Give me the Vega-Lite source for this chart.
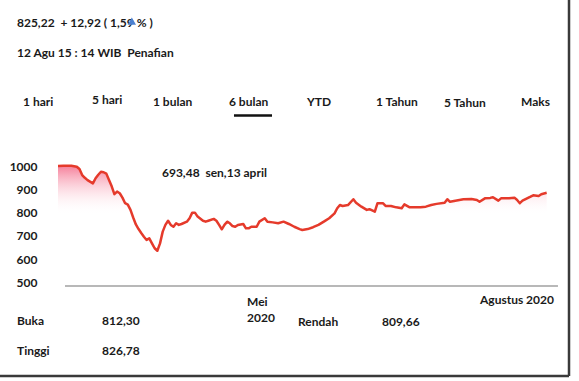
{
  "$schema": "https://vega.github.io/schema/vega-lite/v6.json",
  "width": 579,
  "height": 381,
  "autosize": "none",
  "padding": 0,
  "background": "#ffffff",
  "config": {"view": {"stroke": null}},
  "datasets": {
    "ihsg": [
      {"date":"2020-02-12","value":1003},{"date":"2020-02-14","value":1004},{"date":"2020-02-17","value":1004},
      {"date":"2020-02-19","value":1000},{"date":"2020-02-20","value":990},{"date":"2020-02-21","value":964},
      {"date":"2020-02-22","value":952},{"date":"2020-02-23","value":942},{"date":"2020-02-25","value":928},
      {"date":"2020-02-26","value":950},{"date":"2020-02-27","value":965},{"date":"2020-02-28","value":978},
      {"date":"2020-02-29","value":976},{"date":"2020-03-01","value":970},{"date":"2020-03-02","value":942},
      {"date":"2020-03-03","value":915},{"date":"2020-03-04","value":881},{"date":"2020-03-05","value":892},
      {"date":"2020-03-06","value":885},{"date":"2020-03-07","value":866},{"date":"2020-03-08","value":842},
      {"date":"2020-03-09","value":836},{"date":"2020-03-10","value":813},{"date":"2020-03-11","value":780},
      {"date":"2020-03-12","value":750},{"date":"2020-03-13","value":730},{"date":"2020-03-14","value":713},
      {"date":"2020-03-15","value":697},{"date":"2020-03-16","value":683},{"date":"2020-03-17","value":690},
      {"date":"2020-03-18","value":668},{"date":"2020-03-19","value":647},{"date":"2020-03-20","value":636},
      {"date":"2020-03-21","value":668},{"date":"2020-03-22","value":719},{"date":"2020-03-23","value":748},
      {"date":"2020-03-24","value":766},{"date":"2020-03-25","value":748},{"date":"2020-03-26","value":740},
      {"date":"2020-03-27","value":755},{"date":"2020-03-28","value":748},{"date":"2020-03-29","value":752},
      {"date":"2020-03-31","value":762},{"date":"2020-04-01","value":777},{"date":"2020-04-02","value":801},
      {"date":"2020-04-03","value":801},{"date":"2020-04-04","value":784},{"date":"2020-04-06","value":766},
      {"date":"2020-04-07","value":762},{"date":"2020-04-08","value":766},{"date":"2020-04-10","value":774},
      {"date":"2020-04-11","value":766},{"date":"2020-04-12","value":748},{"date":"2020-04-13","value":729},
      {"date":"2020-04-14","value":748},{"date":"2020-04-15","value":762},{"date":"2020-04-16","value":755},
      {"date":"2020-04-17","value":743},{"date":"2020-04-18","value":740},{"date":"2020-04-19","value":748},
      {"date":"2020-04-21","value":752},{"date":"2020-04-22","value":733},{"date":"2020-04-23","value":733},
      {"date":"2020-04-24","value":740},{"date":"2020-04-26","value":740},{"date":"2020-04-27","value":762},
      {"date":"2020-04-29","value":777},{"date":"2020-04-30","value":762},{"date":"2020-05-02","value":759},
      {"date":"2020-05-04","value":755},{"date":"2020-05-06","value":762},{"date":"2020-05-08","value":752},
      {"date":"2020-05-10","value":740},{"date":"2020-05-12","value":730},{"date":"2020-05-13","value":726},
      {"date":"2020-05-15","value":730},{"date":"2020-05-17","value":738},{"date":"2020-05-19","value":748},
      {"date":"2020-05-21","value":762},{"date":"2020-05-23","value":777},{"date":"2020-05-25","value":798},
      {"date":"2020-05-26","value":820},{"date":"2020-05-27","value":834},{"date":"2020-05-28","value":830},
      {"date":"2020-05-30","value":834},{"date":"2020-06-01","value":859},{"date":"2020-06-02","value":844},
      {"date":"2020-06-04","value":827},{"date":"2020-06-06","value":813},{"date":"2020-06-07","value":816},
      {"date":"2020-06-09","value":805},{"date":"2020-06-10","value":842},{"date":"2020-06-12","value":842},
      {"date":"2020-06-13","value":830},{"date":"2020-06-15","value":830},{"date":"2020-06-17","value":824},
      {"date":"2020-06-19","value":820},{"date":"2020-06-20","value":837},{"date":"2020-06-22","value":824},
      {"date":"2020-06-24","value":824},{"date":"2020-06-26","value":824},{"date":"2020-06-28","value":827},
      {"date":"2020-06-30","value":834},{"date":"2020-07-02","value":839},{"date":"2020-07-05","value":844},
      {"date":"2020-07-06","value":859},{"date":"2020-07-07","value":848},{"date":"2020-07-09","value":853},
      {"date":"2020-07-12","value":859},{"date":"2020-07-15","value":860},{"date":"2020-07-17","value":856},
      {"date":"2020-07-18","value":848},{"date":"2020-07-20","value":863},{"date":"2020-07-22","value":865},
      {"date":"2020-07-23","value":868},{"date":"2020-07-25","value":853},{"date":"2020-07-26","value":863},
      {"date":"2020-07-29","value":863},{"date":"2020-07-31","value":866},{"date":"2020-08-01","value":856},
      {"date":"2020-08-02","value":842},{"date":"2020-08-03","value":853},{"date":"2020-08-06","value":870},
      {"date":"2020-08-07","value":876},{"date":"2020-08-09","value":873},{"date":"2020-08-10","value":881},
      {"date":"2020-08-12","value":887}
    ],
    "labels": [
      {"date":"2020-01-27T17:30:00Z","value":1620,"label":"825,22\u00a0 + 12,92 ( 1,59\u00a0% )"},
      {"date":"2020-01-27T17:30:00Z","value":1492,"label":"12 Agu 15 : 14 WIB\u00a0 Penafian"},
      {"date":"2020-01-30T00:00:00Z","value":1278,"label":"1 hari"},
      {"date":"2020-02-24T16:00:00Z","value":1289,"label":"5 hari"},
      {"date":"2020-03-18T09:00:00Z","value":1282,"label":"1 bulan"},
      {"date":"2020-04-15T16:30:00Z","value":1280,"label":"6 bulan"},
      {"date":"2020-05-14T18:00:00Z","value":1278,"label":"YTD"},
      {"date":"2020-06-09T10:30:00Z","value":1280,"label":"1 Tahun"},
      {"date":"2020-07-04T18:00:00Z","value":1276,"label":"5 Tahun"},
      {"date":"2020-08-02T10:30:00Z","value":1282,"label":"Maks"},
      {"date":"2020-03-21T17:30:00Z","value":974,"label":"693,48\u00a0 sen,13 april"},
      {"date":"2020-04-22T09:30:00Z","value":416,"label":"Mei"},
      {"date":"2020-04-22T09:30:00Z","value":344,"label":"2020"},
      {"date":"2020-07-18T04:00:00Z","value":421,"label":"Agustus 2020"},
      {"date":"2020-01-27T17:30:00Z","value":331,"label":"Buka"},
      {"date":"2020-02-28T09:30:00Z","value":331,"label":"812,30"},
      {"date":"2020-05-11T09:30:00Z","value":329,"label":"Rendah"},
      {"date":"2020-06-11T16:00:00Z","value":329,"label":"809,66"},
      {"date":"2020-01-27T17:30:00Z","value":202,"label":"Tinggi"},
      {"date":"2020-02-28T09:30:00Z","value":202,"label":"826,78"}
    ]
  },
  "encoding": {
    "x": {
      "field": "date", "type": "temporal", "axis": null,
      "scale": {"nice": false, "domain": [
        {"year":2020,"month":1,"date":21,"hours":9,"minutes":36,"utc":true},
        {"year":2020,"month":8,"date":24,"hours":1,"utc":true}
      ]}
    },
    "y": {
      "field": "value", "type": "quantitative",
      "scale": {"domain": [72.3, 1721.6], "nice": false, "zero": false},
      "axis": {
        "title": null, "values": [500, 600, 700, 800, 900, 1000], "format": "d",
        "domain": false, "ticks": false, "tickSize": 0, "grid": false,
        "labelFont": "Lato", "labelFontWeight": "bold", "labelFontSize": 12,
        "labelColor": "#1a1a1a", "labelPadding": 0, "offset": -37,
        "labelAlign": "right", "labelBaseline": "middle", "labelOverlap": false
      }
    }
  },
  "layer": [
    {
      "data": {"name": "ihsg"},
      "mark": {
        "type": "area",
        "color": {
          "x1": 0, "y1": 0, "x2": 0, "y2": 1, "gradient": "linear",
          "stops": [
            {"offset": 0, "color": "rgba(245,120,148,0.95)"},
            {"offset": 0.42, "color": "rgba(255,255,255,0)"}
          ]
        }
      },
      "encoding": {"y2": {"datum": 500}}
    },
    {
      "data": {"name": "ihsg"},
      "mark": {"type": "line", "color": "#e53a2b", "strokeWidth": 2.5, "strokeJoin": "round"}
    },
    {
      "data": {"values": [{"date": "2020-02-14T14:40:00Z", "date2": "2020-08-16T05:00:00Z", "value": 483.6}]},
      "mark": {"type": "rule", "color": "#a0a0a0", "strokeWidth": 1.5},
      "encoding": {"x2": {"field": "date2"}}
    },
    {
      "data": {"values": [
        {"date": "2020-08-20T07:40:00Z", "date2": "2020-08-20T07:40:00Z", "value": 1721.6, "value2": 94},
        {"date": "2020-01-10T00:00:00Z", "date2": "2020-08-20T07:40:00Z", "value": 94, "value2": 94}
      ]},
      "mark": {"type": "rule", "color": "#3a3a3a", "strokeWidth": 2.5},
      "encoding": {"x2": {"field": "date2"}, "y2": {"field": "value2"}}
    },
    {
      "data": {"values": [{"date": "2020-04-17T13:00:00Z", "date2": "2020-05-01T17:00:00Z", "value": 1222}]},
      "mark": {"type": "rule", "color": "#111111", "strokeWidth": 2.5},
      "encoding": {"x2": {"field": "date2"}}
    },
    {
      "data": {"name": "labels"},
      "mark": {"type": "text", "align": "left", "baseline": "middle", "font": "Lato", "fontWeight": "bold", "fontSize": 12, "color": "#1a1a1a"},
      "encoding": {"text": {"field": "label"}}
    },
    {
      "data": {"values": [{"date": "2020-03-10T12:00:00Z", "value": 1630}]},
      "mark": {"type": "point", "shape": "triangle-up", "filled": true, "size": 70, "color": "#4a7fd0", "opacity": 1}
    }
  ]
}
